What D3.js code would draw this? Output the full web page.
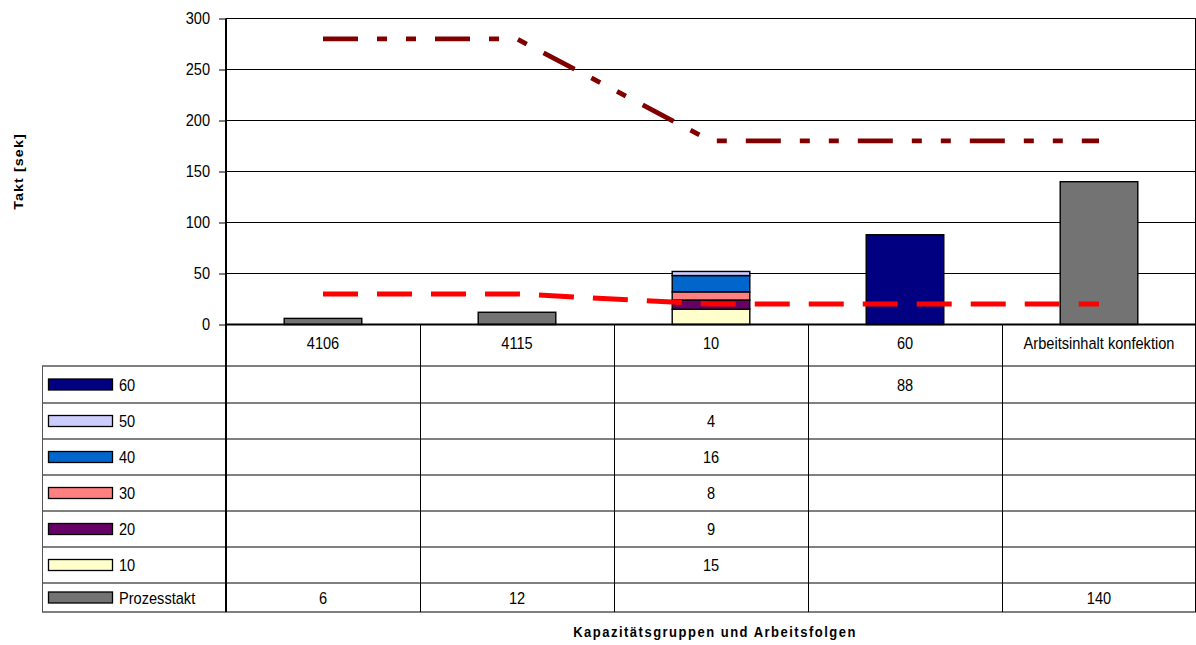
<!DOCTYPE html>
<html><head><meta charset="utf-8">
<script src="https://cdn.jsdelivr.net/npm/d3@7"></script>
<style>
html,body{margin:0;padding:0;background:#fff;}
svg{display:block;font-family:"Liberation Sans",Arial,sans-serif;}
</style></head>
<body>
<svg id="chart" width="1196" height="645"></svg>
<script>
// ---- data ----
const categories = ["4106", "4115", "10", "60", "Arbeitsinhalt konfektion"];
const seriesNames = ["Prozesstakt", "10", "20", "30", "40", "50", "60"];
const prozesstakt = [6, 12, null, null, 140];
const s10 = [null, null, 15, null, null];
const s20 = [null, null, 9, null, null];
const s30 = [null, null, 8, null, null];
const s40 = [null, null, 16, null, null];
const s50 = [null, null, 4, null, null];
const s60 = [null, null, null, 88, null];
const lineUpper = [280, 280, 180, 180, 180];
const lineLower = [30, 30, 20, 20, 20];
const yTicks = [0, 50, 100, 150, 200, 250, 300];
const tableOrder = ["60", "50", "40", "30", "20", "10", "Prozesstakt"];

const seriesValues = {"Prozesstakt": prozesstakt, "10": s10, "20": s20, "30": s30, "40": s40, "50": s50, "60": s60};
const colors = {"Prozesstakt": "#737373", "10": "#FFFFCC", "20": "#660066", "30": "#FF8080", "40": "#0066CC", "50": "#CCCCFF", "60": "#000080"};

// ---- layout ----
const svg = d3.select("#chart");
const plotL = 226, plotR = 1196, plotT = 18.5, plotB = 324.5;
const tableL = 42;
const rowBounds = [366, 403, 439, 475, 511, 547, 583, 612];
const x = d3.scaleBand().domain(categories).range([plotL, plotR]);
const y = d3.scaleLinear().domain([0, 300]).range([plotB, plotT]);
const barW = x.bandwidth() * 0.4;
const SY = 1.15;

function txt(g, xx, yy, s, anchor, opts = {}) {
  return g.append("text")
    .attr("transform", `translate(${xx},${yy}) scale(1,${opts.sy || SY})`)
    .attr("text-anchor", anchor)
    .attr("font-size", opts.size || 14.6)
    .attr("font-weight", opts.bold ? "bold" : "normal")
    .attr("letter-spacing", opts.ls || 0)
    .attr("fill", "#000")
    .text(s);
}

// gridlines
svg.append("g").selectAll("line").data(yTicks.filter(d => d > 0)).join("line")
  .attr("x1", plotL).attr("x2", plotR)
  .attr("y1", d => y(d)).attr("y2", d => y(d))
  .attr("stroke", "#000").attr("stroke-width", 1);

// y axis
const yAxis = svg.append("g").attr("transform", `translate(${plotL},0)`)
  .call(d3.axisLeft(y).tickValues(yTicks).tickSize(7).tickPadding(6));
yAxis.select(".domain").attr("stroke", "#000").attr("stroke-width", 2).attr("d", `M0,${plotT}V${rowBounds[rowBounds.length-1]}`);
yAxis.selectAll(".tick line").attr("stroke", "#000");
yAxis.selectAll(".tick text").remove();
yTicks.forEach(t => txt(svg, plotL - 16, y(t) + 5, String(t), "end"));

// stacked bars
const tableData = categories.map((c, i) => {
  const o = {cat: c};
  seriesNames.forEach(s => o[s] = seriesValues[s][i] || 0);
  return o;
});
const stack = d3.stack().keys(seriesNames)(tableData);
const barsG = svg.append("g");
stack.forEach(layer => {
  barsG.selectAll(null).data(layer.filter(d => d[1] - d[0] > 0)).join("rect")
    .attr("x", d => x(d.data.cat) + x.bandwidth() / 2 - barW / 2)
    .attr("width", barW)
    .attr("y", d => y(d[1]))
    .attr("height", d => y(d[0]) - y(d[1]))
    .attr("fill", colors[layer.key])
    .attr("stroke", "#000").attr("stroke-width", 1.4);
});

// zero line
svg.append("line").attr("x1", plotL).attr("x2", plotR).attr("y1", y(0)).attr("y2", y(0))
  .attr("stroke", "#000").attr("stroke-width", 2);

// lines
const lineGen = d3.line().x((d, i) => x(categories[i]) + x.bandwidth() / 2).y(d => y(d));
svg.append("path").datum(lineUpper).attr("d", lineGen)
  .attr("fill", "none").attr("stroke", "#800000").attr("stroke-width", 4.8)
  .attr("stroke-dasharray", "35,19,10,19,10,19");
svg.append("path").datum(lineLower).attr("d", lineGen)
  .attr("fill", "none").attr("stroke", "#FF0000").attr("stroke-width", 5)
  .attr("stroke-dasharray", "35,19");

// ---- data table ----
const tg = svg.append("g");
// horizontal lines
tg.selectAll("line.h").data(rowBounds).join("line").attr("class", "h")
  .attr("x1", tableL).attr("x2", plotR).attr("y1", d => d).attr("y2", d => d)
  .attr("stroke", "#000").attr("stroke-width", 1);
// vertical lines
tg.append("line").attr("x1", tableL + 0.5).attr("x2", tableL + 0.5).attr("y1", rowBounds[0]).attr("y2", rowBounds[rowBounds.length-1]).attr("stroke", "#555");
categories.forEach((c, i) => {
  const xx = x(c) + x.bandwidth();
  if (i < categories.length - 1)
    tg.append("line").attr("x1", xx + 0.5).attr("x2", xx + 0.5).attr("y1", plotB).attr("y2", rowBounds[rowBounds.length-1]).attr("stroke", "#000");
  txt(tg, x(c) + x.bandwidth() / 2, 349, c, "middle");
});
tg.append("line").attr("x1", plotR - 0.5).attr("x2", plotR - 0.5).attr("y1", plotT).attr("y2", rowBounds[rowBounds.length-1]).attr("stroke", "#000");

tableOrder.forEach((s, r) => {
  const cy = (rowBounds[r] + rowBounds[r + 1]) / 2;
  tg.append("rect").attr("x", 48.5).attr("y", cy - 5.5).attr("width", 64).attr("height", 11)
    .attr("fill", colors[s]).attr("stroke", "#000").attr("stroke-width", 1.3);
  txt(tg, 119, cy + 6, s, "start");
  seriesValues[s].forEach((v, i) => {
    if (v != null) txt(tg, x(categories[i]) + x.bandwidth() / 2, cy + 6, String(v), "middle");
  });
});

// axis titles
txt(svg, 715, 637, "Kapazitätsgruppen und Arbeitsfolgen", "middle", {bold: true, size: 13, ls: 1.5, sy: 1.1});
svg.append("text")
  .attr("transform", `translate(23,${(plotT + plotB) / 2}) rotate(-90) scale(1.1,1)`)
  .attr("text-anchor", "middle").attr("font-size", 13).attr("font-weight", "bold")
  .attr("letter-spacing", 1).text("Takt [sek]");
</script>
</body></html>
